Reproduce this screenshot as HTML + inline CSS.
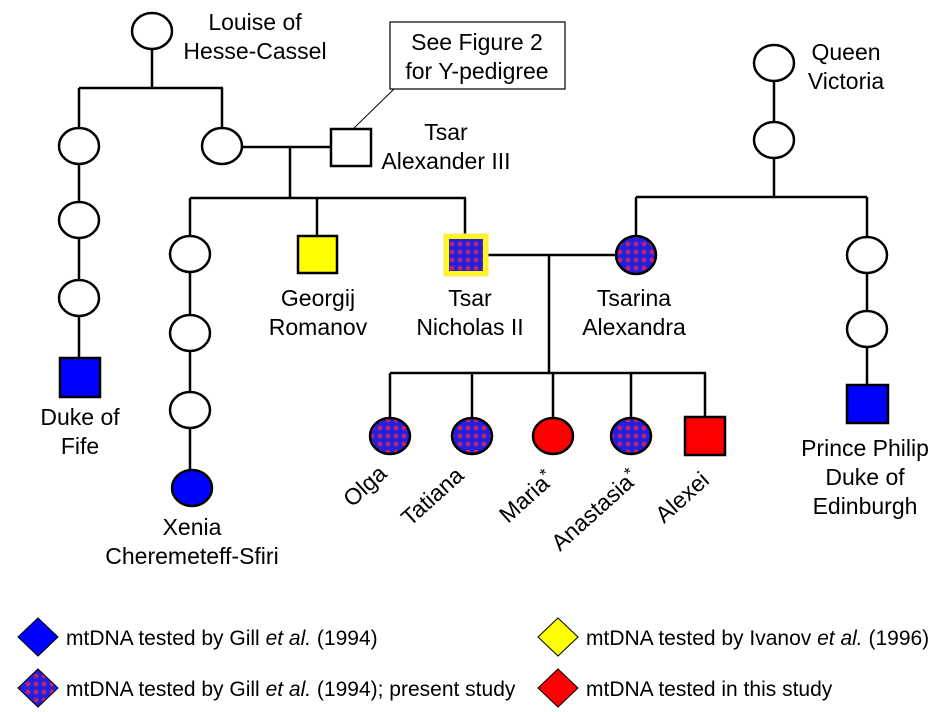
<!DOCTYPE html>
<html><head><meta charset="utf-8"><style>
html,body{margin:0;padding:0;background:#fff;}
svg{display:block;}
text{font-family:"Liberation Sans",Arial,sans-serif;font-size:23px;fill:#000;}
</style></head><body>
<svg width="948" height="712" viewBox="0 0 948 712" xmlns="http://www.w3.org/2000/svg">
<defs>
<pattern id="chk" width="8" height="8" patternUnits="userSpaceOnUse">
<rect width="8" height="8" fill="#2020e0"/>
<circle cx="4" cy="4" r="2.4" fill="#c02070"/>
</pattern>
</defs>
<g stroke="#000" stroke-width="2.5" fill="none">
<line x1="152" y1="49" x2="152" y2="88"/>
<line x1="79" y1="88" x2="223" y2="88"/>
<line x1="79" y1="88" x2="79" y2="128"/>
<line x1="222" y1="88" x2="222" y2="128"/>
<line x1="241" y1="147" x2="331" y2="147"/>
<line x1="290" y1="147" x2="290" y2="198"/>
<line x1="190" y1="198" x2="466" y2="198"/>
<line x1="190" y1="198" x2="190" y2="236"/>
<line x1="317" y1="198" x2="317" y2="236"/>
<line x1="465" y1="198" x2="465" y2="236"/>
<line x1="79" y1="164" x2="79" y2="202"/>
<line x1="79" y1="238" x2="79" y2="280"/>
<line x1="79" y1="316" x2="79" y2="358"/>
<line x1="190" y1="272" x2="190" y2="315"/>
<line x1="190" y1="351" x2="190" y2="392"/>
<line x1="190" y1="428" x2="190" y2="470"/>
<line x1="486" y1="255" x2="616" y2="255"/>
<line x1="549" y1="255" x2="549" y2="373"/>
<line x1="390" y1="373" x2="706" y2="373"/>
<line x1="390" y1="373" x2="390" y2="418"/>
<line x1="472" y1="373" x2="472" y2="418"/>
<line x1="553" y1="373" x2="553" y2="418"/>
<line x1="631" y1="373" x2="631" y2="418"/>
<line x1="705" y1="373" x2="705" y2="417"/>
<line x1="774" y1="81" x2="774" y2="122"/>
<line x1="774" y1="158" x2="774" y2="197"/>
<line x1="636" y1="197" x2="867" y2="197"/>
<line x1="636" y1="197" x2="636" y2="236"/>
<line x1="867" y1="197" x2="867" y2="237"/>
<line x1="867" y1="273" x2="867" y2="311"/>
<line x1="867" y1="347" x2="867" y2="385"/>
</g>
<line x1="394" y1="89" x2="353" y2="129" stroke="#000" stroke-width="1"/>
<rect x="390" y="22" width="175" height="67" fill="#fff" stroke="#000" stroke-width="1.2"/>
<text x="477" y="50" text-anchor="middle">See Figure 2</text>
<text x="477" y="79" text-anchor="middle">for Y-pedigree</text>
<g stroke="#000" stroke-width="2.5">
<ellipse cx="152" cy="31" rx="20" ry="18" fill="#fff"/>
<ellipse cx="79" cy="146" rx="20" ry="18" fill="#fff"/>
<ellipse cx="222" cy="146" rx="20" ry="18" fill="#fff"/>
<rect x="331" y="129" width="40" height="37" fill="#fff"/>
<ellipse cx="79" cy="220" rx="20" ry="18" fill="#fff"/>
<ellipse cx="79" cy="298" rx="20" ry="18" fill="#fff"/>
<rect x="60" y="358" width="40" height="39" fill="#0000ff"/>
<ellipse cx="190" cy="254" rx="20" ry="18" fill="#fff"/>
<ellipse cx="190" cy="333" rx="20" ry="18" fill="#fff"/>
<ellipse cx="190" cy="410" rx="20" ry="18" fill="#fff"/>
<ellipse cx="192" cy="488" rx="20" ry="18" fill="#0000ff"/>
<rect x="298" y="236" width="39" height="37" fill="#ffff00"/>
<ellipse cx="636" cy="255" rx="20" ry="19" fill="url(#chk)"/>
<ellipse cx="390" cy="436" rx="20" ry="18" fill="url(#chk)"/>
<ellipse cx="472" cy="436" rx="20" ry="18" fill="url(#chk)"/>
<ellipse cx="553" cy="436" rx="20" ry="18" fill="#ff0000"/>
<ellipse cx="631" cy="436" rx="20" ry="18" fill="url(#chk)"/>
<rect x="685" y="417" width="40" height="38" fill="#ff0000"/>
<ellipse cx="774" cy="63" rx="20" ry="18" fill="#fff"/>
<ellipse cx="774" cy="140" rx="20" ry="18" fill="#fff"/>
<ellipse cx="867" cy="255" rx="20" ry="18" fill="#fff"/>
<ellipse cx="867" cy="329" rx="20" ry="18" fill="#fff"/>
<rect x="847" y="385" width="41" height="38" fill="#0000ff"/>
</g>
<rect x="445" y="235" width="42" height="40" fill="#ffff00" stroke="#ffee40" stroke-width="3"/>
<rect x="449" y="239" width="34" height="32" fill="url(#chk)"/>
<text x="255" y="30" text-anchor="middle">Louise of</text>
<text x="255" y="59" text-anchor="middle">Hesse-Cassel</text>
<text x="446" y="140" text-anchor="middle">Tsar</text>
<text x="446" y="169" text-anchor="middle">Alexander III</text>
<text x="846" y="60" text-anchor="middle">Queen</text>
<text x="846" y="89" text-anchor="middle">Victoria</text>
<text x="318" y="306" text-anchor="middle">Georgij</text>
<text x="318" y="335" text-anchor="middle">Romanov</text>
<text x="470" y="306" text-anchor="middle">Tsar</text>
<text x="470" y="335" text-anchor="middle">Nicholas II</text>
<text x="634" y="306" text-anchor="middle">Tsarina</text>
<text x="634" y="335" text-anchor="middle">Alexandra</text>
<text x="80" y="425" text-anchor="middle">Duke of</text>
<text x="80" y="454" text-anchor="middle">Fife</text>
<text x="192" y="535" text-anchor="middle">Xenia</text>
<text x="192" y="564" text-anchor="middle">Cheremeteff-Sfiri</text>
<text x="865" y="456" text-anchor="middle">Prince Philip</text>
<text x="865" y="485" text-anchor="middle">Duke of</text>
<text x="865" y="514" text-anchor="middle">Edinburgh</text>
<text transform="translate(352,508) rotate(-42)">Olga</text>
<text transform="translate(410,527) rotate(-42)">Tatiana</text>
<text transform="translate(508,524) rotate(-42)">Maria<tspan dy="-7" font-size="17">*</tspan></text>
<text transform="translate(560,552) rotate(-42)">Anastasia<tspan dy="-7" font-size="17">*</tspan></text>
<text transform="translate(664,524) rotate(-42)">Alexei</text>
<g stroke="#000" stroke-width="1">
<polygon points="38,618 58,637 38,656 18,637" fill="#0000ff"/>
<polygon points="38,669 58,688 38,707 18,688" fill="url(#chk)"/>
<polygon points="558,618 578,637 558,656 538,637" fill="#ffff00"/>
<polygon points="558,669 578,688 558,707 538,688" fill="#ff0000"/>
</g>
<text x="66" y="645" style="font-size:21px">mtDNA tested by Gill <tspan font-style="italic">et al.</tspan> (1994)</text>
<text x="66" y="696" style="font-size:21px">mtDNA tested by Gill <tspan font-style="italic">et al.</tspan> (1994); present study</text>
<text x="586" y="645" style="font-size:21px">mtDNA tested by Ivanov <tspan font-style="italic">et al.</tspan> (1996)</text>
<text x="586" y="696" style="font-size:21px">mtDNA tested in this study</text>
</svg>
</body></html>
